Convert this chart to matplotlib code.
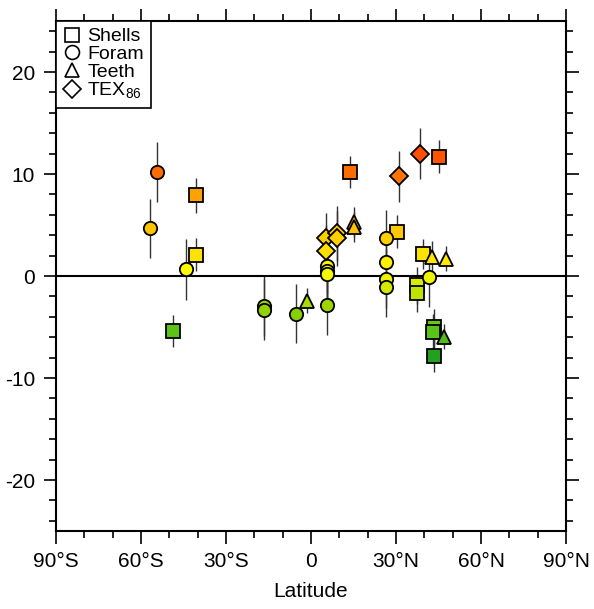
"""
Latitude anomalies by proxy type
"""

import numpy as np
import matplotlib
matplotlib.use("Agg")
import matplotlib.pyplot as plt
from matplotlib.colors import LinearSegmentedColormap, Normalize
from matplotlib.lines import Line2D
from matplotlib.ticker import MultipleLocator

plt.rcParams["font.family"] = ["Liberation Sans", "DejaVu Sans"]
plt.rcParams["axes.unicode_minus"] = False

# Data (latitude, value, half error bar)
shell_lat = [-40.7, -40.7, -48.8, 13.8, 45.2, 30.2, 39.6, 37.3, 37.3, 43.3, 43.0, 43.4]
shell_val = [7.9, 2.1, -5.4, 10.2, 11.7, 4.35, 2.15, -0.9, -1.7, -5.0, -5.5, -7.8]
shell_err = [1.7, 1.6, 1.6, 1.6, 1.6, 1.6, 1.5, 1.8, 1.8, 1.8, 1.8, 1.6]

foram_lat = [-54.4, -56.7, -44.0, -16.5, -16.5, -5.3, 5.6, 5.6, 5.6, 5.6, 26.5, 26.5, 26.5, 26.5, 41.8]
foram_val = [10.2, 4.7, 0.65, -2.9, -3.3, -3.7, -2.85, 1.0, 0.5, 0.2, 3.7, 1.35, -0.25, -1.1, -0.05]
foram_err = [2.9, 2.9, 3.0, 3.0, 3.0, 2.9, 2.9, 2.8, 2.8, 2.8, 2.8, 2.9, 2.9, 2.9, 3.0]

teeth_lat = [-1.5, 15.3, 15.3, 42.6, 47.5, 46.8]
teeth_val = [-2.4, 5.3, 4.8, 1.9, 1.7, -5.95]
teeth_err = [1.2, 1.5, 1.5, 1.5, 1.2, 1.2]

tex_lat = [5.3, 5.3, 9.3, 9.3, 31.2, 38.6]
tex_val = [3.7, 2.5, 4.2, 3.7, 9.8, 12.0]
tex_err = [2.5, 2.5, 2.7, 2.7, 2.5, 2.5]

x_ticks = [-90, -60, -30, 0, 30, 60, 90]
x_labels = ["90°S", "60°S", "30°S", "0", "30°N", "60°N", "90°N"]
y_ticks = [-20, -10, 0, 10, 20]

# green -> yellow -> orange colour scale
vmin, vmax = -8, 12
nodes = [(-8, "#1e9e1e"), (-5.5, "#5cc21a"), (-3, "#9ad400"), (-1, "#d6ea00"),
         (0.5, "#ffff00"), (2, "#ffe400"), (4, "#ffcc00"), (8, "#ffa000"),
         (10, "#ff7000"), (12, "#ff5000")]
cmap = LinearSegmentedColormap.from_list(
    "proxy", [((v - vmin) / (vmax - vmin), c) for v, c in nodes])
norm = Normalize(vmin, vmax)

fig = plt.figure(figsize=(5.94, 6.09), dpi=100)
ax = fig.add_axes([0.0943, 0.128, 0.8586, 0.8375])

ax.axhline(0, color="black", lw=1.5, zorder=1.5)

groups = [
    (shell_lat, shell_val, shell_err, "s", 9.4),
    (foram_lat, foram_val, foram_err, "o", 9.6),
    (teeth_lat, teeth_val, teeth_err, "^", 9.6),
    (tex_lat, tex_val, tex_err, "D", 9.4),
]
for lat, val, err, mk, ms in groups:
    ax.errorbar(lat, val, yerr=err, fmt="none", ecolor="#333333", elinewidth=1.0, zorder=1)
    for x, y in zip(lat, val):
        ax.plot(x, y, marker=mk, ms=ms, mfc=cmap(norm(y)), mec="black", mew=1.3,
                ls="none", zorder=3)

ax.set_xlim(-90, 90)
ax.set_ylim(-25, 25)
ax.set_xticks(x_ticks)
ax.set_xticklabels(x_labels)
ax.set_yticks(y_ticks)
ax.set_yticklabels([str(v) for v in y_ticks])
ax.xaxis.set_minor_locator(MultipleLocator(10))
ax.yaxis.set_minor_locator(MultipleLocator(2))
ax.tick_params(which="both", direction="out", top=True, right=True, width=1.2,
               labelsize=15, pad=6)
ax.tick_params(which="major", length=9)
ax.tick_params(which="minor", length=5)
for s in ax.spines.values():
    s.set_linewidth(1.5)
ax.set_xlabel("Latitude", fontsize=15, labelpad=8)

handles = [Line2D([], [], marker=m, ms=ms, mfc="white", mec="black", mew=1.2, ls="none")
           for m, ms in [("s", 10), ("o", 10), ("^", 10), ("D", 9.5)]]
leg = ax.legend(handles, ["Shells", "Foram", "Teeth", r"TEX$_{\mathregular{86}}$"],
                loc="upper left", borderaxespad=0, fancybox=False, edgecolor="black",
                framealpha=1, fontsize=14, handlelength=0.9, handletextpad=0.35,
                labelspacing=0.0, borderpad=0.35)
leg.get_frame().set_linewidth(1.2)

fig.savefig("out.png", dpi=100)
